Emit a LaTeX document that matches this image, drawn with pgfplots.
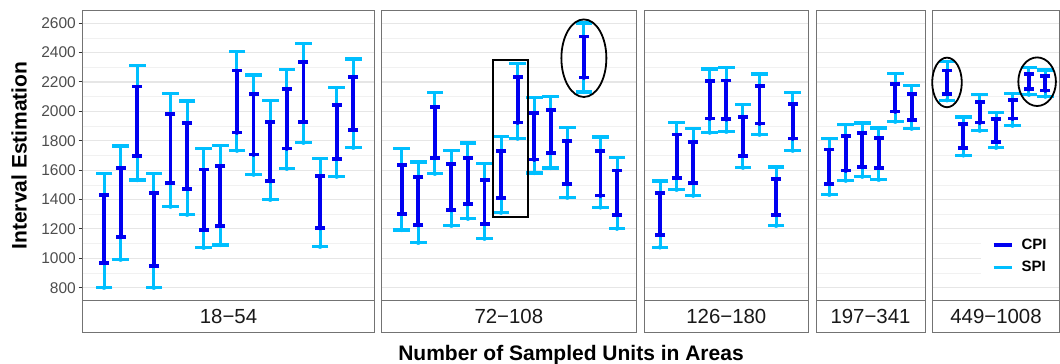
\documentclass[border=0pt]{standalone}
\usepackage{pgfplots}
\pgfplotsset{compat=1.18}
\usepackage{pgfplotstable}
\usepackage{fontspec}
\setmainfont{Liberation Sans}
\definecolor{cpi}{RGB}{0,0,240}
\definecolor{spi}{RGB}{0,191,255}
\definecolor{bordercol}{RGB}{115,115,115}
\definecolor{gridmaj}{RGB}{230,230,230}
\definecolor{gridmin}{RGB}{241,241,241}
\definecolor{ticklab}{RGB}{77,77,77}
\definecolor{tickcol}{RGB}{51,51,51}

% x  SPI-high SPI-low CPI-high CPI-low
\pgfplotstableread{
x shi slo chi clo
1 1578 800 1429 970
2 1765 991 1613 1145
3 2314 1533 2169 1699
4 1578 800 1447 950
5 2123 1352 1980 1515
6 2071 1297 1919 1474
7 1747 1072 1604 1193
8 1767 1091 1629 1222
9 2407 1733 2278 1856
10 2248 1570 2119 1706
11 2073 1399 1930 1526
12 2285 1610 2155 1747
13 2464 1787 2334 1930
14 1678 1079 1560 1206
15 2164 1556 2042 1678
16 2357 1753 2235 1874
}\tabA
\pgfplotstableread{
x shi slo chi clo
1 1749 1193 1633 1304
2 1656 1106 1554 1227
3 2130 1576 2028 1683
4 1733 1222 1640 1329
5 1785 1270 1681 1372
6 1647 1134 1535 1236
7 1828 1311 1728 1413
8 2328 1815 2235 1924
9 2092 1581 1987 1672
10 2099 1615 2008 1719
11 1892 1413 1801 1508
12 2602 2132 2509 2230
13 1826 1347 1728 1427
14 1688 1202 1597 1297
}\tabB
\pgfplotstableread{
x shi slo chi clo
1 1526 1075 1442 1161
2 1924 1467 1842 1549
3 1883 1427 1794 1515
4 2289 1856 2205 1951
5 2298 1862 2210 1946
6 2046 1617 1964 1699
7 2255 1842 2173 1917
8 1622 1222 1538 1297
9 2130 1733 2051 1815
}\tabC
\pgfplotstableread{
x shi slo chi clo
1 1815 1433 1740 1508
2 1910 1529 1831 1597
3 1921 1556 1853 1624
4 1887 1535 1819 1617
5 2257 1930 2187 1999
6 2178 1883 2119 1944
}\tabD
\pgfplotstableread{
x shi slo chi clo
1 2337 2076 2278 2119
2 1962 1701 1915 1753
3 2117 1869 2064 1924
4 1994 1753 1949 1794
5 2123 1903 2078 1951
6 2298 2114 2255 2151
7 2282 2101 2241 2142
}\tabE

\newcommand{\intervals}[1]{%
 \addplot[spi, only marks, mark=none, forget plot,
   error bars/.cd, y dir=plus, y explicit, error mark=none,
   error bar style={spi, line width=3pt}]
   table[x=x, y=slo, y error plus expr={\thisrow{shi}-\thisrow{slo}}] {#1};
 \addplot[spi, only marks, mark=-, mark size=8.3pt, mark options={line width=3.2pt}, forget plot] table[x=x, y=shi] {#1};
 \addplot[spi, only marks, mark=-, mark size=8.3pt, mark options={line width=3.2pt}, forget plot] table[x=x, y=slo] {#1};
 \addplot[cpi, only marks, mark=none, forget plot,
   error bars/.cd, y dir=plus, y explicit, error mark=none,
   error bar style={cpi, line width=3.8pt}]
   table[x=x, y=clo, y error plus expr={\thisrow{chi}-\thisrow{clo}}] {#1};
 \addplot[cpi, only marks, mark=-, mark size=5pt, mark options={line width=3.8pt}, forget plot] table[x=x, y=chi] {#1};
 \addplot[cpi, only marks, mark=-, mark size=5pt, mark options={line width=3.8pt}, forget plot] table[x=x, y=clo] {#1};
}
\newcommand{\strip}[1]{%
 \draw[bordercol, line width=0.9pt, fill=white] (rel axis cs:0,0) rectangle (rel axis cs:1,-0.1088);
 \node[font=\fontsize{20.4}{24}\selectfont, text=black!90] at (rel axis cs:0.5,-0.0544) {#1};
}

\pgfplotsset{
 panel/.style={scale only axis, height=290.4pt, ymin=711.5, ymax=2688,
  xtick=\empty, ytick={800,1000,...,2600}, minor ytick={900,1100,...,2500},
  ymajorgrids, yminorgrids,
  major grid style={gridmaj, line width=1.1pt},
  minor grid style={gridmin, line width=0.6pt},
  axis line style={bordercol, line width=0.9pt},
  clip mode=individual, anchor=south west,
  minor tick length=0pt},
 noy/.style={yticklabels={}, major tick length=0pt},
}

\begin{document}
\begin{tikzpicture}[x=1pt,y=1pt]
\useasboundingbox (0,0) rectangle (1060,364);

\begin{axis}[panel, at={(82.7pt,63.3pt)}, width=291.6pt, xmin=-0.282, xmax=17.264,
  tick align=outside, major tick length=4pt, ytick pos=left,
  ytick style={tickcol, line width=1pt},
  yticklabel style={font=\fontsize{15.5}{18}\selectfont, text=ticklab, /pgf/number format/1000 sep={}, /pgf/number format/assume math mode=true, inner sep=0pt, xshift=-2.7pt}]
\intervals{\tabA}
\strip{18−54}
\end{axis}

\begin{axis}[panel, noy, at={(381.7pt,63.3pt)}, width=254.3pt, xmin=-0.208, xmax=15.147]
\intervals{\tabB}
\draw[black, line width=2pt] (axis cs:6.5,1281) rectangle (axis cs:8.64,2350);
\draw[black, line width=1.8pt] (axis cs:12,2362) ellipse [x radius=22.5pt, y radius=38.8pt];
\strip{72−108}
\end{axis}

\begin{axis}[panel, noy, at={(644.3pt,63.3pt)}, width=164pt, xmin=0.053, xmax=9.941]
\intervals{\tabC}
\strip{126−180}
\end{axis}

\begin{axis}[panel, noy, at={(816pt,63.3pt)}, width=109pt, xmin=0.192, xmax=6.808]
\intervals{\tabD}
\strip{197−341}
\end{axis}

\begin{axis}[panel, noy, at={(932.7pt,63.3pt)}, width=126.6pt, xmin=0.128, xmax=7.854,
  legend style={at={(rel axis cs:1,0.061)}, anchor=south east, draw=none, fill=white,
    font=\fontsize{15}{18}\selectfont\bfseries, inner xsep=10.5pt, inner ysep=7.3pt, row sep=6.7pt,
    /tikz/every odd column/.append style={column sep=5.3pt}},
  legend cell align=left,
  legend image code/.code={\draw[#1] (0pt,0pt) -- (18.7pt,0pt);}]
\intervals{\tabE}
\draw[black, line width=1.8pt] (axis cs:1,2197) ellipse [x radius=14.8pt, y radius=24.8pt];
\draw[black, line width=1.8pt] (axis cs:6.5,2202) ellipse [x radius=18.8pt, y radius=24.3pt];
\addlegendimage{cpi, line width=4pt}
\addlegendentry{CPI}
\addlegendimage{spi, line width=3.3pt}
\addlegendentry{SPI}
\strip{449−1008}
\end{axis}

\node[rotate=90, anchor=base, font=\fontsize{21}{25}\selectfont\bfseries] at (26.5,208.5) {Interval Estimation};
\node[anchor=base, font=\fontsize{21}{25}\selectfont\bfseries] at (571,3.3) {Number of Sampled Units in Areas};
\end{tikzpicture}
\end{document}
